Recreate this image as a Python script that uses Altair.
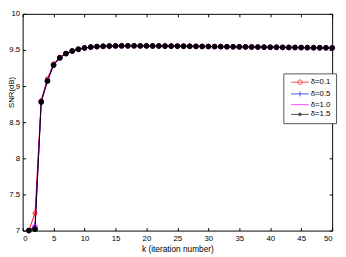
import altair as alt
import pandas as pd

k_values = list(range(1, 51))
labels = ["δ=0.1", "δ=0.5", "δ=1.0", "δ=1.5"]
colors = ["#ff0000", "#0000ff", "#ff00ff", "#000000"]

# first six iterations of each series
head_d01 = [7.00, 7.24, 8.80, 9.10, 9.31, 9.40]
head_d05 = [7.00, 7.07, 8.79, 9.08, 9.30, 9.395]
head_d10 = [7.00, 7.05, 8.785, 9.075, 9.295, 9.39]
head_d15 = [7.00, 7.02, 8.78, 9.07, 9.29, 9.39]
# k = 7..50, where all four curves coincide
plateau = [9.450, 9.485, 9.510, 9.528, 9.540, 9.547, 9.551, 9.554, 9.556, 9.557,
           9.557, 9.557, 9.556, 9.556, 9.555, 9.555, 9.554, 9.553, 9.553, 9.552,
           9.551, 9.550, 9.549, 9.548, 9.547, 9.546, 9.545, 9.544, 9.543, 9.542,
           9.541, 9.540, 9.539, 9.538, 9.537, 9.536, 9.535, 9.534, 9.533, 9.532,
           9.531, 9.530, 9.529, 9.528]

x_ticks = list(range(0, 51, 5))
y_ticks = [7, 7.5, 8, 8.5, 9, 9.5, 10]

heads = [head_d01, head_d05, head_d10, head_d15]
rows = []
for lab, head in zip(labels, heads):
    for k, v in zip(k_values, head + plateau):
        rows.append({"k": k, "snr": v, "d": lab})
df = pd.DataFrame(rows)

FONT = "Liberation Sans"

xs = alt.Scale(domain=[0, 50], nice=False)
ys = alt.Scale(domain=[7, 10], nice=False)

common_axis = dict(tickSize=3, offset=-3, domain=False, grid=False, tickColor="#000",
                   labelFont=FONT, labelFontSize=8, labelColor="#000")

lines = alt.Chart(df).mark_line(strokeWidth=1).encode(
    x=alt.X("k:Q", scale=xs, axis=alt.Axis(values=x_ticks, labelPadding=4,
            title="k (iteration number)", titleFont=FONT, titleFontSize=8.5,
            titleFontWeight="normal", titleColor="#000", titleY=21,
            titleBaseline="middle", **common_axis)),
    y=alt.Y("snr:Q", scale=ys, axis=alt.Axis(values=y_ticks, format="~g", labelPadding=3,
            title="SNR(dB)", titleFont=FONT, titleFontSize=8, titleFontWeight="normal",
            titleColor="#000", titleX=-14, titleY=80, titleAngle=270,
            titleAlign="center", titleBaseline="middle", **common_axis)),
    color=alt.Color("d:N", scale=alt.Scale(domain=labels, range=colors), legend=None),
)

points = alt.Chart(df).mark_point(filled=False, strokeWidth=1, opacity=1).encode(
    x=alt.X("k:Q", scale=xs, axis=alt.Axis(orient="top", labels=False, title=None, **common_axis)),
    y=alt.Y("snr:Q", scale=ys, axis=alt.Axis(orient="right", labels=False, title=None, **common_axis)),
    color=alt.Color("d:N", scale=alt.Scale(domain=labels, range=colors), legend=None),
    shape=alt.Shape("d:N", scale=alt.Scale(domain=labels,
                    range=["circle", "M-1,0H1M0,-1V1", "circle", "circle"]), legend=None),
    fill=alt.Fill("d:N", scale=alt.Scale(domain=labels,
                  range=["transparent", "transparent", "transparent", "#000000"]), legend=None),
    size=alt.Size("d:N", scale=alt.Scale(domain=labels, range=[15, 25, 0, 5]), legend=None),
)

legend_shapes = [
    "M-5,0H5M1.3,0A1.3,1.3 0 1,1 -1.3,0A1.3,1.3 0 1,1 1.3,0Z",
    "M-5,0H5M0,-1.4V1.4",
    "M-5,0H5",
    "M-5,0H5M0.8,0A0.8,0.8 0 1,1 -0.8,0A0.8,0.8 0 1,1 0.8,0Z",
]

legend_props = dict(orient="none", legendX=267, legendY=61, title=None,
                    symbolSize=13, symbolStrokeWidth=1,
                    labelFont=FONT, labelFontSize=8, labelColor="#000",
                    padding=5, rowPadding=2, strokeColor="#555",
                    fillColor="#ffffff", symbolOffset=8, labelOffset=7)

legend_layer = alt.Chart(df).mark_point(filled=False).encode(
    shape=alt.Shape("d:N", scale=alt.Scale(domain=labels, range=legend_shapes),
                    legend=alt.Legend(**legend_props)),
    stroke=alt.Stroke("d:N", scale=alt.Scale(domain=labels, range=colors),
                      legend=alt.Legend(**legend_props)),
    fill=alt.Fill("d:N", scale=alt.Scale(domain=labels,
                  range=["#ffffff", "transparent", "transparent", "#000000"]),
                  legend=alt.Legend(**legend_props)),
).transform_filter("false")

chart = alt.layer(lines, points, legend_layer).resolve_scale(
    shape="independent", fill="independent", stroke="independent"
).resolve_axis(
    x="independent", y="independent"
).resolve_legend(
    shape="independent", fill="independent", stroke="independent"
).properties(
    width=317, height=222,
    padding={"left": 15, "top": 3, "right": 6, "bottom": 21},
    autosize=alt.AutoSizeParams(type="none"),
).configure_view(stroke="#000", strokeWidth=1)

chart.save("out.html", embed_options={"renderer": "svg", "actions": False})
